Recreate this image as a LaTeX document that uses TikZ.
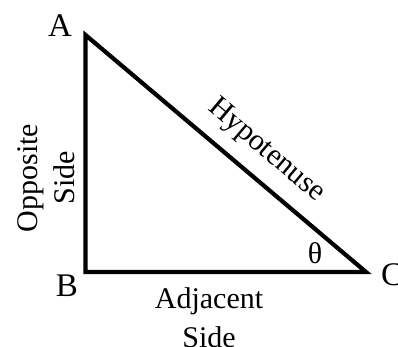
\documentclass[tikz,border=0pt]{standalone}
\usepackage{fontspec}
\setmainfont{Liberation Serif}
\begin{document}
\begin{tikzpicture}[x=1pt,y=1pt,
  lbl/.style={font=\fontsize{30}{38}\selectfont, inner sep=0pt},
  vtx/.style={font=\fontsize{33}{36}\selectfont, inner sep=0pt},
  side/.style={line width=4.2pt, line join=miter}]
\useasboundingbox (0,0) rectangle (398,347);
\coordinate (A) at (85.5,312);
\coordinate (B) at (85.5,75);
\coordinate (C) at (366,75);
\draw[side] (A) -- (B) -- (C) -- cycle;
\node[vtx] (la) at (60,321) {A};
\node[vtx] (lb) at (67,61) {B};
\node[vtx] (lc) at (392,72) {C};
\node[lbl, rotate=-40.2] (hyp) at (266,196) {Hypotenuse};
\node[lbl] (th) at (315,94) {θ};
\node[lbl, rotate=90, align=center, font=\fontsize{30}{37}\selectfont] (opp) at (46,169) {Opposite\\Side};
\node[lbl, align=center, font=\fontsize{30}{39}\selectfont, anchor=north] (adj) at (209,60) {Adjacent\\Side};
\end{tikzpicture}
\end{document}
